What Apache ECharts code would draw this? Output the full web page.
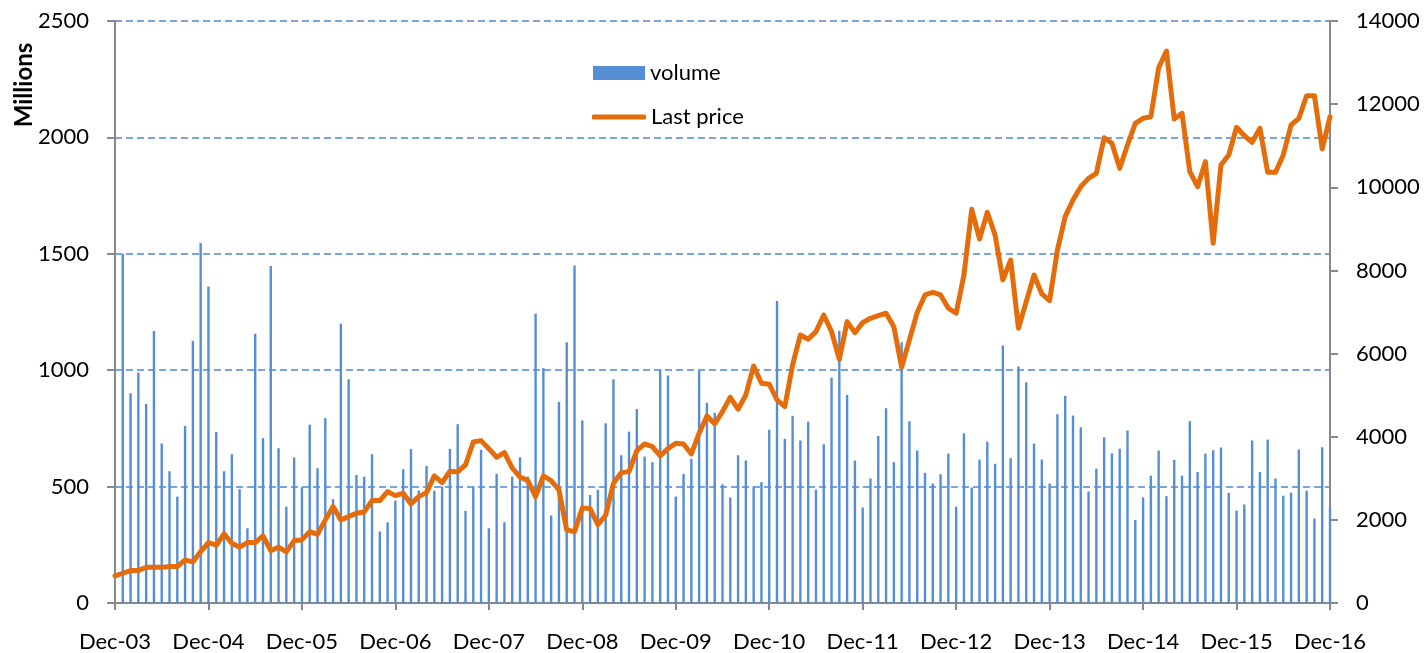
<!DOCTYPE html>
<html>
<head>
<meta charset="utf-8">
<title>Volume and last price</title>
<script src="https://cdn.jsdelivr.net/npm/echarts@6/dist/echarts.min.js"></script>
<style>
  html, body { margin: 0; padding: 0; background: #ffffff; }
  #chart { width: 1427px; height: 653px; }
</style>
</head>
<body>
<div id="chart"></div>
<script>
// Monthly axis: Dec-03 through Dec-16 (157 months)
const startYear = 2003;
const monthNames = ['Jan','Feb','Mar','Apr','May','Jun','Jul','Aug','Sep','Oct','Nov','Dec'];
const months = [];
for (let i = 0; i < 157; i++) {
  const m = (11 + i) % 12;
  const y = startYear + Math.floor((11 + i) / 12);
  months.push(monthNames[m] + '-' + String(y % 100).padStart(2, '0'));
}

// Monthly traded volume (millions); no bar for the opening month
const volume = [
  null,
  1500, 901, 990, 855, 1168, 685, 566, 457, 761, 1126, 1546, 1359,
  735, 566, 639, 489, 321, 1157, 708, 1448, 665, 414, 625, 497,
  766, 579, 794, 446, 1199, 961, 550, 543, 639, 307, 347, 440,
  575, 661, 483, 589, 482, 500, 662, 768, 396, 500, 658, 321,
  555, 347, 543, 626, 543, 1242, 1009, 376, 863, 1120, 1450, 784,
  464, 486, 772, 961, 635, 736, 833, 629, 605, 1004, 977, 457,
  555, 619, 997, 860, 817, 510, 453, 635, 612, 500, 519, 744,
  1297, 705, 804, 698, 779, 487, 682, 968, 1169, 894, 612, 410,
  535, 718, 837, 605, 1120, 781, 655, 559, 513, 553, 642, 414,
  729, 496, 616, 693, 598, 1106, 622, 1016, 948, 685, 616, 513,
  811, 890, 805, 755, 479, 577, 712, 643, 663, 741, 357, 454,
  547, 655, 459, 615, 547, 781, 563, 642, 656, 668, 473, 397,
  423, 698, 563, 702, 535, 461, 474, 659, 482, 363, 669, 409
];

// Month-end last price
const lastPrice = [
  650,
  716, 780, 780, 861, 861, 857, 876, 876, 1037, 988, 1236, 1453,
  1390, 1662, 1438, 1342, 1453, 1453, 1614, 1260, 1342, 1229, 1501, 1518,
  1717, 1650, 1999, 2319, 1999, 2078, 2160, 2191, 2463, 2463, 2679, 2583,
  2640, 2383, 2559, 2655, 3057, 2896, 3170, 3153, 3321, 3874, 3906, 3713,
  3506, 3617, 3250, 3030, 2944, 2559, 3057, 2944, 2720, 1758, 1717, 2287,
  2270, 1886, 2111, 2881, 3136, 3160, 3665, 3826, 3762, 3538, 3713, 3843,
  3826, 3586, 4084, 4500, 4310, 4603, 4949, 4661, 5005, 5702, 5286, 5262,
  4885, 4724, 5726, 6448, 6344, 6527, 6929, 6527, 5863, 6768, 6503, 6744,
  6849, 6912, 6970, 6647, 5671, 6328, 6990, 7410, 7475, 7410, 7090, 6970,
  7891, 9471, 8757, 9398, 8850, 7771, 8251, 6609, 7249, 7891, 7434, 7273,
  8490, 9293, 9694, 10015, 10215, 10336, 11193, 11058, 10456, 11017, 11539, 11659,
  11698, 12876, 13278, 11643, 11780, 10375, 10015, 10616, 8653, 10536, 10777, 11443,
  11241, 11082, 11419, 10359, 10359, 10777, 11498, 11659, 12203, 12203, 10921, 11698
];

// Axis tick values
const volumeTicks = [0, 500, 1000, 1500, 2000, 2500];
const priceTicks = [0, 2000, 4000, 6000, 8000, 10000, 12000, 14000];

const FONT = 'Lato, "Open Sans", sans-serif';
const axisGrey = '#888888';
const ORANGE = '#E46C0A';
const BLUE = '#558ED5';
const labelStyle = { color: '#000', fontFamily: FONT, fontSize: 22 };
const plainNumber = function (v) { return String(v); };

const chart = echarts.init(document.getElementById('chart'), null, { renderer: 'canvas' });

chart.setOption({
  animation: false,
  backgroundColor: '#ffffff',
  grid: { left: 115, right: 97, top: 21, bottom: 50, containLabel: false },
  legend: [
    {
      left: 593,
      top: 62,
      padding: 0,
      itemWidth: 52,
      itemHeight: 14,
      textStyle: { color: '#000', fontFamily: FONT, fontSize: 22 },
      data: [{ name: 'volume', icon: 'rect' }]
    },
    {
      left: 592,
      top: 106,
      padding: 0,
      itemWidth: 54,
      itemHeight: 5,
      itemStyle: { color: ORANGE },
      textStyle: { color: '#000', fontFamily: FONT, fontSize: 22 },
      data: [{ name: 'Last price', icon: 'roundRect' }]
    }
  ],
  graphic: [{
    type: 'text',
    x: 24,
    y: 85,
    rotation: Math.PI / 2,
    style: {
      text: 'Millions',
      font: 'bold 24px ' + FONT,
      fill: '#000',
      align: 'center',
      verticalAlign: 'middle'
    }
  }],
  xAxis: {
    type: 'category',
    data: months,
    boundaryGap: false,
    axisLine: { lineStyle: { color: axisGrey, width: 2 } },
    axisTick: { interval: 11, length: 7, lineStyle: { color: axisGrey, width: 2 } },
    axisLabel: Object.assign({ interval: 11, margin: 28 }, labelStyle),
    splitLine: { show: false }
  },
  yAxis: [
    {
      type: 'value',
      min: volumeTicks[0],
      max: volumeTicks[volumeTicks.length - 1],
      interval: volumeTicks[1] - volumeTicks[0],
      position: 'left',
      axisLine: { show: true, lineStyle: { color: axisGrey, width: 2 } },
      axisTick: { show: true, length: 8, lineStyle: { color: axisGrey, width: 2 } },
      axisLabel: Object.assign({ margin: 26, formatter: plainNumber }, labelStyle),
      splitLine: { show: true, lineStyle: { color: '#4F86D6', width: 1.5, type: [7, 4] } }
    },
    {
      type: 'value',
      min: priceTicks[0],
      max: priceTicks[priceTicks.length - 1],
      interval: priceTicks[1] - priceTicks[0],
      position: 'right',
      axisLine: { show: true, lineStyle: { color: axisGrey, width: 2 } },
      axisTick: { show: true, length: 8, lineStyle: { color: axisGrey, width: 2 } },
      axisLabel: Object.assign({ margin: 26, formatter: plainNumber }, labelStyle),
      splitLine: { show: false }
    }
  ],
  series: [
    {
      name: 'volume',
      type: 'bar',
      yAxisIndex: 0,
      data: volume,
      barWidth: 2.4,
      itemStyle: { color: BLUE },
      clip: true
    },
    {
      name: 'Last price',
      type: 'line',
      yAxisIndex: 1,
      data: lastPrice,
      symbol: 'none',
      showSymbol: false,
      itemStyle: { color: ORANGE },
      lineStyle: { color: ORANGE, width: 5, cap: 'round', join: 'round' },
      z: 3
    }
  ]
});
</script>
</body>
</html>
